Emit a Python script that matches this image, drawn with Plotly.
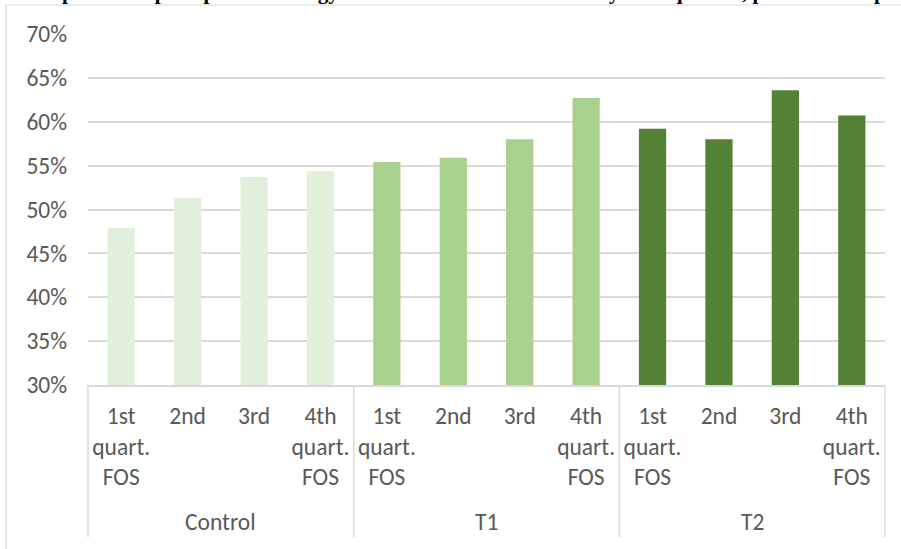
import plotly.graph_objects as go

# Share of respondents by FOS quartile within each group (percent)
groups = ["Control", "T1", "T2"]
quartile_labels = ["1st<br>quart.<br>FOS", "2nd", "3rd", "4th<br>quart.<br>FOS"]
control_vals = [47.9, 51.3, 53.7, 54.4]
t1_vals = [55.4, 55.9, 58.0, 62.7]
t2_vals = [59.2, 58.0, 63.6, 60.7]
group_colors = ["#E2EFDA", "#A9D18E", "#548235"]

series = [control_vals, t1_vals, t2_vals]

W, H = 901, 549
ML, MR, MT, MB = 88, 16, 34, 164
PW, PH = W - ML - MR, H - MT - MB

FONT = "Carlito, Lato, 'Open Sans', sans-serif"
FS = 23.5
GRAY = "#595959"
LINE = "#D9D9D9"

fig = go.Figure()

positions = []
ticktext = []
pos = 0
for gi, vals in enumerate(series):
    xs = list(range(pos, pos + len(vals)))
    fig.add_trace(go.Bar(
        x=xs, y=[v / 100 for v in vals],
        marker=dict(color=group_colors[gi], line=dict(width=0)),
        name=groups[gi], showlegend=False,
    ))
    positions.append(xs)
    ticktext += quartile_labels
    pos += len(vals)

n_cat = pos
x_lo, x_hi = -0.5, n_cat - 0.5


def px_x(px):
    return (px - ML) / PW


def px_y(py):
    return (MT + PH - py) / PH


def data_to_paper_x(x):
    return (x - x_lo) / (x_hi - x_lo)


shapes = []
# outer chart frame (runs past the right and bottom edges of the page)
shapes.append(dict(type="rect", xref="paper", yref="paper",
                   x0=px_x(6), x1=px_x(930), y0=px_y(560), y1=px_y(5),
                   line=dict(color=LINE, width=1.2), fillcolor="rgba(0,0,0,0)",
                   layer="below"))
# group dividers below the category axis
bounds = [positions[0][0] - 0.5] + [xs[-1] + 0.5 for xs in positions]
for b in bounds:
    xp = data_to_paper_x(b)
    shapes.append(dict(type="line", xref="paper", yref="paper",
                       x0=xp, x1=xp, y0=0, y1=px_y(537),
                       line=dict(color=LINE, width=1.5)))

annotations = []
for gi, xs in enumerate(positions):
    cx = (xs[0] + xs[-1]) / 2
    annotations.append(dict(x=data_to_paper_x(cx), y=px_y(522), xref="paper", yref="paper",
                            text=groups[gi], showarrow=False,
                            font=dict(family=FONT, size=FS, color=GRAY),
                            xanchor="center", yanchor="middle"))

# figure caption sitting above the chart frame
annotations.append(dict(
    x=px_x(450), y=px_y(6), xref="paper", yref="paper",
    text="<b>Figure 5. Respondents' perception of energy/environmental effectiveness by FOS quartile, percent of respondents</b>",
    showarrow=False, xanchor="center", yanchor="bottom",
    font=dict(family="'Liberation Serif', 'Times New Roman', serif", size=21, color="#000000")))

fig.update_layout(
    width=W, height=H,
    margin=dict(l=ML, r=MR, t=MT, b=MB),
    paper_bgcolor="#FFFFFF", plot_bgcolor="#FFFFFF",
    bargap=0.59,
    shapes=shapes, annotations=annotations,
    font=dict(family=FONT, size=FS, color=GRAY),
)

fig.update_xaxes(
    range=[x_lo, x_hi],
    tickmode="array", tickvals=list(range(n_cat)), ticktext=ticktext,
    showgrid=False, zeroline=False,
    showline=True, linecolor=LINE, linewidth=1.5,
    ticks="", ticklabelstandoff=9,
    tickfont=dict(family=FONT, size=FS, color=GRAY),
)

fig.update_yaxes(
    range=[0.30, 0.70], dtick=0.05, tickformat=".0%",
    showgrid=True, gridcolor=LINE, gridwidth=1.5,
    zeroline=False, showline=False, ticks="",
    ticklabelstandoff=20,
    tickfont=dict(family=FONT, size=FS, color=GRAY),
)

fig.write_html("out.html")
